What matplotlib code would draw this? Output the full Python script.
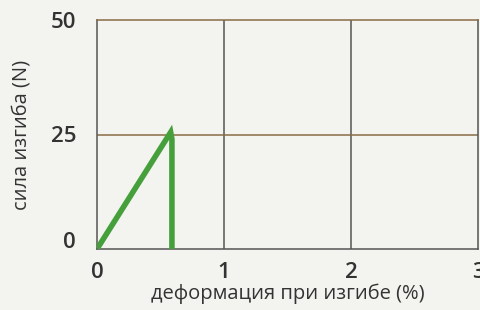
import matplotlib
matplotlib.use("Agg")
import matplotlib.pyplot as plt
import matplotlib.transforms as mtransforms

# strain (%) vs bending force (N)
strain = [0.0, 0.58, 0.59, 0.59]
force = [0.0, 25.5, 24.0, 0.0]

x_ticks = [0, 1, 2, 3]
y_ticks = [0, 25, 50]

plt.rcParams["font.family"] = ["Open Sans", "DejaVu Sans"]

fig = plt.figure(figsize=(4.8, 3.1), dpi=100, facecolor="#f3f3ef")
ax = fig.add_axes([97 / 480, 1 - 249 / 310, (478 - 97) / 480, (249 - 20) / 310])
ax.set_facecolor("#f3f3ef")

# grid: vertical lines gray, horizontal lines brownish
for xv in x_ticks[1:-1]:
    ax.axvline(xv, color="#555555", lw=1.1, zorder=1)
ax.axhline(25, color="#8a6a45", lw=1.1, zorder=1)

ax.plot(strain, force, color="#45a03c", lw=4.0, solid_capstyle="butt",
        solid_joinstyle="miter", zorder=3)

ax.set_xlim(0, 3)
ax.set_ylim(0, 50)
ax.set_xticks(x_ticks)
ax.set_yticks(y_ticks)
ax.tick_params(length=0, labelsize=16, colors="#333333")
ax.tick_params(axis="x", pad=9)
ax.tick_params(axis="y", pad=15)
for lab in ax.get_xticklabels() + ax.get_yticklabels():
    lab.set_fontweight("semibold")
# the "0" on the y axis sits a little above the baseline
ylab0 = ax.get_yticklabels()[0]
ylab0.set_transform(ylab0.get_transform() + mtransforms.ScaledTranslation(0, 9 / 100, fig.dpi_scale_trans))

for side in ["left", "bottom", "right"]:
    ax.spines[side].set_color("#555555")
    ax.spines[side].set_linewidth(1.1)
ax.spines["top"].set_color("#8a6a45")
ax.spines["top"].set_linewidth(1.1)

ax.set_xlabel("деформация при изгибе (%)", fontsize=14.5, color="#333333", labelpad=1)
ax.set_ylabel("сила изгиба (N)", fontsize=14.5, color="#333333", labelpad=14)

fig.savefig("out.png", dpi=100, facecolor=fig.get_facecolor())
